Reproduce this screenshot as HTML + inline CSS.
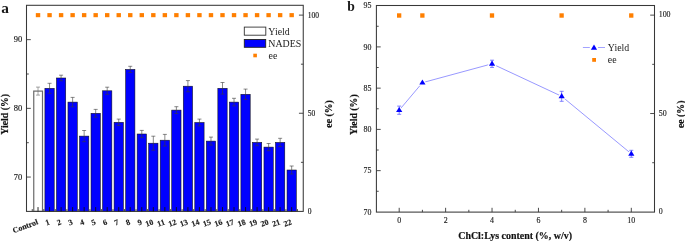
<!DOCTYPE html>
<html><head><meta charset="utf-8"><title>Figure</title>
<style>
html,body{margin:0;padding:0;background:#fff;}
body{width:685px;height:241px;overflow:hidden;}
svg{display:block;will-change:transform;}
text{font-family:"Liberation Serif",serif;fill:#1a1a1a;}
.t7{font-size:7.5px;stroke:#1a1a1a;stroke-width:0.15px;}
.t8{font-size:7.9px;stroke:#1a1a1a;stroke-width:0.14px;}
.xb{font-size:8px;font-weight:bold;stroke:#1a1a1a;stroke-width:0.15px;}
.ttl{font-size:9.8px;font-weight:bold;stroke:#111;stroke-width:0.18px;fill:#111;}
.lg{font-size:9.9px;fill:#222;}
.pl{font-size:14.5px;font-weight:bold;}
</style></head>
<body>
<svg width="685" height="241" viewBox="0 0 685 241">
<rect width="685" height="241" fill="#fff"/>
<rect x="33.75" y="91.10" width="8.75" height="120.30" fill="#fff" stroke="#6a6a6a" stroke-width="1.2"/>
<rect x="44.91" y="88.30" width="9.30" height="123.10" fill="#0000ff" stroke="#111" stroke-width="0.55"/>
<rect x="56.44" y="78.00" width="9.30" height="133.40" fill="#0000ff" stroke="#111" stroke-width="0.55"/>
<rect x="67.97" y="102.10" width="9.30" height="109.30" fill="#0000ff" stroke="#111" stroke-width="0.55"/>
<rect x="79.50" y="136.10" width="9.30" height="75.30" fill="#0000ff" stroke="#111" stroke-width="0.55"/>
<rect x="91.02" y="113.30" width="9.30" height="98.10" fill="#0000ff" stroke="#111" stroke-width="0.55"/>
<rect x="102.55" y="90.80" width="9.30" height="120.60" fill="#0000ff" stroke="#111" stroke-width="0.55"/>
<rect x="114.08" y="122.30" width="9.30" height="89.10" fill="#0000ff" stroke="#111" stroke-width="0.55"/>
<rect x="125.61" y="69.40" width="9.30" height="142.00" fill="#0000ff" stroke="#111" stroke-width="0.55"/>
<rect x="137.14" y="134.00" width="9.30" height="77.40" fill="#0000ff" stroke="#111" stroke-width="0.55"/>
<rect x="148.67" y="143.20" width="9.30" height="68.20" fill="#0000ff" stroke="#111" stroke-width="0.55"/>
<rect x="160.20" y="140.20" width="9.30" height="71.20" fill="#0000ff" stroke="#111" stroke-width="0.55"/>
<rect x="171.73" y="110.10" width="9.30" height="101.30" fill="#0000ff" stroke="#111" stroke-width="0.55"/>
<rect x="183.26" y="86.20" width="9.30" height="125.20" fill="#0000ff" stroke="#111" stroke-width="0.55"/>
<rect x="194.79" y="122.50" width="9.30" height="88.90" fill="#0000ff" stroke="#111" stroke-width="0.55"/>
<rect x="206.32" y="141.10" width="9.30" height="70.30" fill="#0000ff" stroke="#111" stroke-width="0.55"/>
<rect x="217.85" y="88.30" width="9.30" height="123.10" fill="#0000ff" stroke="#111" stroke-width="0.55"/>
<rect x="229.38" y="102.10" width="9.30" height="109.30" fill="#0000ff" stroke="#111" stroke-width="0.55"/>
<rect x="240.90" y="94.30" width="9.30" height="117.10" fill="#0000ff" stroke="#111" stroke-width="0.55"/>
<rect x="252.43" y="142.40" width="9.30" height="69.00" fill="#0000ff" stroke="#111" stroke-width="0.55"/>
<rect x="263.96" y="147.10" width="9.30" height="64.30" fill="#0000ff" stroke="#111" stroke-width="0.55"/>
<rect x="275.49" y="142.40" width="9.30" height="69.00" fill="#0000ff" stroke="#111" stroke-width="0.55"/>
<rect x="287.02" y="170.00" width="9.30" height="41.40" fill="#0000ff" stroke="#111" stroke-width="0.55"/>
<path d="M38.03 87.10V95.10M36.03 87.10H40.03M36.03 95.10H40.03" stroke="#6a6a6a" stroke-width="0.6" fill="none"/>
<path d="M49.56 83.30V93.30M47.56 83.30H51.56M47.56 93.30H51.56" stroke="#3a3a3a" stroke-width="0.6" fill="none"/>
<path d="M61.09 75.20V80.80M59.09 75.20H63.09M59.09 80.80H63.09" stroke="#3a3a3a" stroke-width="0.6" fill="none"/>
<path d="M72.62 97.40V106.80M70.62 97.40H74.62M70.62 106.80H74.62" stroke="#3a3a3a" stroke-width="0.6" fill="none"/>
<path d="M84.15 130.50V141.70M82.15 130.50H86.15M82.15 141.70H86.15" stroke="#3a3a3a" stroke-width="0.6" fill="none"/>
<path d="M95.67 109.40V117.20M93.67 109.40H97.67M93.67 117.20H97.67" stroke="#3a3a3a" stroke-width="0.6" fill="none"/>
<path d="M107.20 87.20V94.40M105.20 87.20H109.20M105.20 94.40H109.20" stroke="#3a3a3a" stroke-width="0.6" fill="none"/>
<path d="M118.73 119.10V125.50M116.73 119.10H120.73M116.73 125.50H120.73" stroke="#3a3a3a" stroke-width="0.6" fill="none"/>
<path d="M130.26 66.30V72.50M128.26 66.30H132.26M128.26 72.50H132.26" stroke="#3a3a3a" stroke-width="0.6" fill="none"/>
<path d="M141.79 130.40V137.60M139.79 130.40H143.79M139.79 137.60H143.79" stroke="#3a3a3a" stroke-width="0.6" fill="none"/>
<path d="M153.32 136.20V150.20M151.32 136.20H155.32M151.32 150.20H155.32" stroke="#3a3a3a" stroke-width="0.6" fill="none"/>
<path d="M164.85 134.40V146.00M162.85 134.40H166.85M162.85 146.00H166.85" stroke="#3a3a3a" stroke-width="0.6" fill="none"/>
<path d="M176.38 106.70V113.50M174.38 106.70H178.38M174.38 113.50H178.38" stroke="#3a3a3a" stroke-width="0.6" fill="none"/>
<path d="M187.91 80.60V91.80M185.91 80.60H189.91M185.91 91.80H189.91" stroke="#3a3a3a" stroke-width="0.6" fill="none"/>
<path d="M199.44 119.10V125.90M197.44 119.10H201.44M197.44 125.90H201.44" stroke="#3a3a3a" stroke-width="0.6" fill="none"/>
<path d="M210.97 137.10V145.10M208.97 137.10H212.97M208.97 145.10H212.97" stroke="#3a3a3a" stroke-width="0.6" fill="none"/>
<path d="M222.50 82.50V94.10M220.50 82.50H224.50M220.50 94.10H224.50" stroke="#3a3a3a" stroke-width="0.6" fill="none"/>
<path d="M234.03 98.30V105.90M232.03 98.30H236.03M232.03 105.90H236.03" stroke="#3a3a3a" stroke-width="0.6" fill="none"/>
<path d="M245.55 89.10V99.50M243.55 89.10H247.55M243.55 99.50H247.55" stroke="#3a3a3a" stroke-width="0.6" fill="none"/>
<path d="M257.08 139.10V145.70M255.08 139.10H259.08M255.08 145.70H259.08" stroke="#3a3a3a" stroke-width="0.6" fill="none"/>
<path d="M268.61 143.50V150.70M266.61 143.50H270.61M266.61 150.70H270.61" stroke="#3a3a3a" stroke-width="0.6" fill="none"/>
<path d="M280.14 138.30V146.50M278.14 138.30H282.14M278.14 146.50H282.14" stroke="#3a3a3a" stroke-width="0.6" fill="none"/>
<path d="M291.67 166.00V174.00M289.67 166.00H293.67M289.67 174.00H293.67" stroke="#3a3a3a" stroke-width="0.6" fill="none"/>
<rect x="35.83" y="13.1" width="4.4" height="4.1" fill="#ff7f00"/>
<rect x="47.36" y="13.1" width="4.4" height="4.1" fill="#ff7f00"/>
<rect x="58.89" y="13.1" width="4.4" height="4.1" fill="#ff7f00"/>
<rect x="70.42" y="13.1" width="4.4" height="4.1" fill="#ff7f00"/>
<rect x="81.95" y="13.1" width="4.4" height="4.1" fill="#ff7f00"/>
<rect x="93.47" y="13.1" width="4.4" height="4.1" fill="#ff7f00"/>
<rect x="105.00" y="13.1" width="4.4" height="4.1" fill="#ff7f00"/>
<rect x="116.53" y="13.1" width="4.4" height="4.1" fill="#ff7f00"/>
<rect x="128.06" y="13.1" width="4.4" height="4.1" fill="#ff7f00"/>
<rect x="139.59" y="13.1" width="4.4" height="4.1" fill="#ff7f00"/>
<rect x="151.12" y="13.1" width="4.4" height="4.1" fill="#ff7f00"/>
<rect x="162.65" y="13.1" width="4.4" height="4.1" fill="#ff7f00"/>
<rect x="174.18" y="13.1" width="4.4" height="4.1" fill="#ff7f00"/>
<rect x="185.71" y="13.1" width="4.4" height="4.1" fill="#ff7f00"/>
<rect x="197.24" y="13.1" width="4.4" height="4.1" fill="#ff7f00"/>
<rect x="208.77" y="13.1" width="4.4" height="4.1" fill="#ff7f00"/>
<rect x="220.30" y="13.1" width="4.4" height="4.1" fill="#ff7f00"/>
<rect x="231.83" y="13.1" width="4.4" height="4.1" fill="#ff7f00"/>
<rect x="243.35" y="13.1" width="4.4" height="4.1" fill="#ff7f00"/>
<rect x="254.88" y="13.1" width="4.4" height="4.1" fill="#ff7f00"/>
<rect x="266.41" y="13.1" width="4.4" height="4.1" fill="#ff7f00"/>
<rect x="277.94" y="13.1" width="4.4" height="4.1" fill="#ff7f00"/>
<rect x="289.47" y="13.1" width="4.4" height="4.1" fill="#ff7f00"/>
<rect x="26.5" y="5.3" width="276.75" height="206.10" fill="none" stroke="#383838" stroke-width="1.05"/>
<path d="M38.03 211.4V207.10" stroke="#111" stroke-width="0.9"/>
<path d="M49.56 211.4V207.10" stroke="#111" stroke-width="0.9"/>
<path d="M61.09 211.4V207.10" stroke="#111" stroke-width="0.9"/>
<path d="M72.62 211.4V207.10" stroke="#111" stroke-width="0.9"/>
<path d="M84.15 211.4V207.10" stroke="#111" stroke-width="0.9"/>
<path d="M95.67 211.4V207.10" stroke="#111" stroke-width="0.9"/>
<path d="M107.20 211.4V207.10" stroke="#111" stroke-width="0.9"/>
<path d="M118.73 211.4V207.10" stroke="#111" stroke-width="0.9"/>
<path d="M130.26 211.4V207.10" stroke="#111" stroke-width="0.9"/>
<path d="M141.79 211.4V207.10" stroke="#111" stroke-width="0.9"/>
<path d="M153.32 211.4V207.10" stroke="#111" stroke-width="0.9"/>
<path d="M164.85 211.4V207.10" stroke="#111" stroke-width="0.9"/>
<path d="M176.38 211.4V207.10" stroke="#111" stroke-width="0.9"/>
<path d="M187.91 211.4V207.10" stroke="#111" stroke-width="0.9"/>
<path d="M199.44 211.4V207.10" stroke="#111" stroke-width="0.9"/>
<path d="M210.97 211.4V207.10" stroke="#111" stroke-width="0.9"/>
<path d="M222.50 211.4V207.10" stroke="#111" stroke-width="0.9"/>
<path d="M234.03 211.4V207.10" stroke="#111" stroke-width="0.9"/>
<path d="M245.55 211.4V207.10" stroke="#111" stroke-width="0.9"/>
<path d="M257.08 211.4V207.10" stroke="#111" stroke-width="0.9"/>
<path d="M268.61 211.4V207.10" stroke="#111" stroke-width="0.9"/>
<path d="M280.14 211.4V207.10" stroke="#111" stroke-width="0.9"/>
<path d="M291.67 211.4V207.10" stroke="#111" stroke-width="0.9"/>
<path d="M32.26 211.4V209.10" stroke="#333" stroke-width="0.9"/>
<path d="M43.79 211.4V209.10" stroke="#333" stroke-width="0.9"/>
<path d="M55.32 211.4V209.10" stroke="#333" stroke-width="0.9"/>
<path d="M66.85 211.4V209.10" stroke="#333" stroke-width="0.9"/>
<path d="M78.38 211.4V209.10" stroke="#333" stroke-width="0.9"/>
<path d="M89.91 211.4V209.10" stroke="#333" stroke-width="0.9"/>
<path d="M101.44 211.4V209.10" stroke="#333" stroke-width="0.9"/>
<path d="M112.97 211.4V209.10" stroke="#333" stroke-width="0.9"/>
<path d="M124.50 211.4V209.10" stroke="#333" stroke-width="0.9"/>
<path d="M136.03 211.4V209.10" stroke="#333" stroke-width="0.9"/>
<path d="M147.56 211.4V209.10" stroke="#333" stroke-width="0.9"/>
<path d="M159.09 211.4V209.10" stroke="#333" stroke-width="0.9"/>
<path d="M170.61 211.4V209.10" stroke="#333" stroke-width="0.9"/>
<path d="M182.14 211.4V209.10" stroke="#333" stroke-width="0.9"/>
<path d="M193.67 211.4V209.10" stroke="#333" stroke-width="0.9"/>
<path d="M205.20 211.4V209.10" stroke="#333" stroke-width="0.9"/>
<path d="M216.73 211.4V209.10" stroke="#333" stroke-width="0.9"/>
<path d="M228.26 211.4V209.10" stroke="#333" stroke-width="0.9"/>
<path d="M239.79 211.4V209.10" stroke="#333" stroke-width="0.9"/>
<path d="M251.32 211.4V209.10" stroke="#333" stroke-width="0.9"/>
<path d="M262.85 211.4V209.10" stroke="#333" stroke-width="0.9"/>
<path d="M274.38 211.4V209.10" stroke="#333" stroke-width="0.9"/>
<path d="M285.91 211.4V209.10" stroke="#333" stroke-width="0.9"/>
<path d="M297.44 211.4V209.10" stroke="#333" stroke-width="0.9"/>
<path d="M26.5 177.05H30.80" stroke="#383838" stroke-width="0.9"/>
<path d="M26.5 108.35H30.80" stroke="#383838" stroke-width="0.9"/>
<path d="M26.5 39.65H30.80" stroke="#383838" stroke-width="0.9"/>
<path d="M26.5 142.70H28.80" stroke="#383838" stroke-width="0.9"/>
<path d="M26.5 74.00H28.80" stroke="#383838" stroke-width="0.9"/>
<path d="M303.25 113.26H298.95" stroke="#383838" stroke-width="0.9"/>
<path d="M303.25 15.11H298.95" stroke="#383838" stroke-width="0.9"/>
<path d="M303.25 162.33H300.95" stroke="#383838" stroke-width="0.9"/>
<path d="M303.25 64.19H300.95" stroke="#383838" stroke-width="0.9"/>
<text transform="translate(22.3 179.55) scale(1.13 1)" text-anchor="end" class="t7">70</text>
<text transform="translate(22.3 110.85) scale(1.13 1)" text-anchor="end" class="t7">80</text>
<text transform="translate(22.3 42.15) scale(1.13 1)" text-anchor="end" class="t7">90</text>
<text x="307.7" y="213.80" class="t7">0</text>
<text x="307.7" y="115.66" class="t7">50</text>
<text x="307.7" y="17.51" class="t7">100</text>
<text transform="translate(38.63 224.1) rotate(-20)" text-anchor="end" class="xb">Control</text>
<text transform="translate(50.16 224.1) rotate(-20)" text-anchor="end" class="xb">1</text>
<text transform="translate(61.69 224.1) rotate(-20)" text-anchor="end" class="xb">2</text>
<text transform="translate(73.22 224.1) rotate(-20)" text-anchor="end" class="xb">3</text>
<text transform="translate(84.75 224.1) rotate(-20)" text-anchor="end" class="xb">4</text>
<text transform="translate(96.27 224.1) rotate(-20)" text-anchor="end" class="xb">5</text>
<text transform="translate(107.80 224.1) rotate(-20)" text-anchor="end" class="xb">6</text>
<text transform="translate(119.33 224.1) rotate(-20)" text-anchor="end" class="xb">7</text>
<text transform="translate(130.86 224.1) rotate(-20)" text-anchor="end" class="xb">8</text>
<text transform="translate(142.39 224.1) rotate(-20)" text-anchor="end" class="xb">9</text>
<text transform="translate(153.92 224.1) rotate(-20)" text-anchor="end" class="xb">10</text>
<text transform="translate(165.45 224.1) rotate(-20)" text-anchor="end" class="xb">11</text>
<text transform="translate(176.98 224.1) rotate(-20)" text-anchor="end" class="xb">12</text>
<text transform="translate(188.51 224.1) rotate(-20)" text-anchor="end" class="xb">13</text>
<text transform="translate(200.04 224.1) rotate(-20)" text-anchor="end" class="xb">14</text>
<text transform="translate(211.57 224.1) rotate(-20)" text-anchor="end" class="xb">15</text>
<text transform="translate(223.10 224.1) rotate(-20)" text-anchor="end" class="xb">16</text>
<text transform="translate(234.62 224.1) rotate(-20)" text-anchor="end" class="xb">17</text>
<text transform="translate(246.15 224.1) rotate(-20)" text-anchor="end" class="xb">18</text>
<text transform="translate(257.68 224.1) rotate(-20)" text-anchor="end" class="xb">19</text>
<text transform="translate(269.21 224.1) rotate(-20)" text-anchor="end" class="xb">20</text>
<text transform="translate(280.74 224.1) rotate(-20)" text-anchor="end" class="xb">21</text>
<text transform="translate(292.27 224.1) rotate(-20)" text-anchor="end" class="xb">22</text>
<text transform="translate(7.6 114.3) rotate(-90)" text-anchor="middle" class="ttl">Yield (%)</text>
<text transform="translate(332.4 113.9) rotate(-90)" text-anchor="middle" class="ttl">ee (%)</text>
<rect x="244.3" y="27.1" width="21.5" height="8.1" fill="#fff" stroke="#333" stroke-width="0.9"/>
<rect x="244.3" y="39.5" width="21.4" height="7.8" fill="#0000ff" stroke="#222" stroke-width="0.9"/>
<rect x="253.3" y="53.7" width="3.6" height="3.6" fill="#ff7f00"/>
<text x="268.3" y="35.2" class="lg">Yield</text>
<text x="268.3" y="47.3" class="lg">NADES</text>
<text x="268.6" y="58.8" class="lg">ee</text>
<text x="1.2" y="12.6" class="pl" style="font-size:15.4px">a</text>
<path d="M399.20 110.20 L422.41 82.70 L492.04 63.80 L561.67 96.30 L631.30 153.80" stroke="#7d7dff" stroke-width="0.8" fill="none"/>
<path d="M399.20 106.90L402.30 112.10L396.10 112.10Z" fill="#fff" stroke="#fff" stroke-width="2.4" stroke-linejoin="round"/>
<path d="M422.41 79.40L425.51 84.60L419.31 84.60Z" fill="#fff" stroke="#fff" stroke-width="2.4" stroke-linejoin="round"/>
<path d="M492.04 60.50L495.14 65.70L488.94 65.70Z" fill="#fff" stroke="#fff" stroke-width="2.4" stroke-linejoin="round"/>
<path d="M561.67 93.00L564.77 98.20L558.57 98.20Z" fill="#fff" stroke="#fff" stroke-width="2.4" stroke-linejoin="round"/>
<path d="M631.30 150.50L634.40 155.70L628.20 155.70Z" fill="#fff" stroke="#fff" stroke-width="2.4" stroke-linejoin="round"/>
<path d="M399.20 106.10V114.30M397.20 106.10H401.20M397.20 114.30H401.20" stroke="#5a5aff" stroke-width="0.75" fill="none"/>
<path d="M492.04 60.20V67.40M490.04 60.20H494.04M490.04 67.40H494.04" stroke="#5a5aff" stroke-width="0.75" fill="none"/>
<path d="M561.67 91.30V101.30M559.67 91.30H563.67M559.67 101.30H563.67" stroke="#5a5aff" stroke-width="0.75" fill="none"/>
<path d="M631.30 150.30V157.30M629.30 150.30H633.30M629.30 157.30H633.30" stroke="#5a5aff" stroke-width="0.75" fill="none"/>
<path d="M399.20 106.90L402.30 112.10L396.10 112.10Z" fill="#0000ff"/>
<path d="M422.41 79.40L425.51 84.60L419.31 84.60Z" fill="#0000ff"/>
<path d="M492.04 60.50L495.14 65.70L488.94 65.70Z" fill="#0000ff"/>
<path d="M561.67 93.00L564.77 98.20L558.57 98.20Z" fill="#0000ff"/>
<path d="M631.30 150.50L634.40 155.70L628.20 155.70Z" fill="#0000ff"/>
<rect x="397.00" y="13.3" width="4.3" height="4.4" fill="#ff7f00"/>
<rect x="420.21" y="13.3" width="4.3" height="4.4" fill="#ff7f00"/>
<rect x="489.84" y="13.3" width="4.3" height="4.4" fill="#ff7f00"/>
<rect x="559.47" y="13.3" width="4.3" height="4.4" fill="#ff7f00"/>
<rect x="629.10" y="13.3" width="4.3" height="4.4" fill="#ff7f00"/>
<rect x="376.4" y="5.5" width="278.10" height="206.60" fill="none" stroke="#383838" stroke-width="1.05"/>
<path d="M399.20 212.1V207.80" stroke="#383838" stroke-width="0.9"/>
<text x="399.20" y="223.1" text-anchor="middle" class="t8">0</text>
<path d="M445.62 212.1V207.80" stroke="#383838" stroke-width="0.9"/>
<text x="445.62" y="223.1" text-anchor="middle" class="t8">2</text>
<path d="M492.04 212.1V207.80" stroke="#383838" stroke-width="0.9"/>
<text x="492.04" y="223.1" text-anchor="middle" class="t8">4</text>
<path d="M538.46 212.1V207.80" stroke="#383838" stroke-width="0.9"/>
<text x="538.46" y="223.1" text-anchor="middle" class="t8">6</text>
<path d="M584.88 212.1V207.80" stroke="#383838" stroke-width="0.9"/>
<text x="584.88" y="223.1" text-anchor="middle" class="t8">8</text>
<path d="M631.30 212.1V207.80" stroke="#383838" stroke-width="0.9"/>
<text x="631.30" y="223.1" text-anchor="middle" class="t8">10</text>
<path d="M422.41 212.1V209.80" stroke="#383838" stroke-width="0.9"/>
<path d="M468.83 212.1V209.80" stroke="#383838" stroke-width="0.9"/>
<path d="M515.25 212.1V209.80" stroke="#383838" stroke-width="0.9"/>
<path d="M561.67 212.1V209.80" stroke="#383838" stroke-width="0.9"/>
<path d="M608.09 212.1V209.80" stroke="#383838" stroke-width="0.9"/>
<text x="371.5" y="214.60" text-anchor="end" class="t8">70</text>
<path d="M376.4 170.65H380.70" stroke="#383838" stroke-width="0.9"/>
<text x="371.5" y="173.35" text-anchor="end" class="t8">75</text>
<path d="M376.4 129.40H380.70" stroke="#383838" stroke-width="0.9"/>
<text x="371.5" y="132.10" text-anchor="end" class="t8">80</text>
<path d="M376.4 88.15H380.70" stroke="#383838" stroke-width="0.9"/>
<text x="371.5" y="90.85" text-anchor="end" class="t8">85</text>
<path d="M376.4 46.90H380.70" stroke="#383838" stroke-width="0.9"/>
<text x="371.5" y="49.60" text-anchor="end" class="t8">90</text>
<text x="371.5" y="8.35" text-anchor="end" class="t8">95</text>
<path d="M376.4 191.28H378.70" stroke="#383838" stroke-width="0.9"/>
<path d="M376.4 150.03H378.70" stroke="#383838" stroke-width="0.9"/>
<path d="M376.4 108.78H378.70" stroke="#383838" stroke-width="0.9"/>
<path d="M376.4 67.53H378.70" stroke="#383838" stroke-width="0.9"/>
<path d="M376.4 26.28H378.70" stroke="#383838" stroke-width="0.9"/>
<text x="658.7" y="214.10" class="t8">0</text>
<path d="M654.5 113.52H650.20" stroke="#383838" stroke-width="0.9"/>
<text x="658.7" y="115.72" class="t8">50</text>
<path d="M654.5 15.14H650.20" stroke="#383838" stroke-width="0.9"/>
<text x="658.7" y="17.34" class="t8">100</text>
<path d="M654.5 162.71H652.20" stroke="#383838" stroke-width="0.9"/>
<path d="M654.5 64.33H652.20" stroke="#383838" stroke-width="0.9"/>
<text transform="translate(356.6 114.7) rotate(-90)" text-anchor="middle" class="ttl">Yield (%)</text>
<text transform="translate(683.8 114.3) rotate(-90)" text-anchor="middle" class="ttl">ee (%)</text>
<text x="515.1" y="239.1" text-anchor="middle" class="ttl" style="font-size:9.95px">ChCl:Lys content (%, w/v)</text>
<path d="M582.9 47.5H589.8M598 47.5H605" stroke="#8a8aff" stroke-width="0.8"/>
<path d="M594 44.5L597.1 49.8L590.9 49.8Z" fill="#0000ff"/>
<rect x="592.2" y="58" width="3.8" height="3.8" fill="#ff7f00"/>
<text x="607.8" y="51.1" class="lg">Yield</text>
<text x="607.8" y="62.9" class="lg">ee</text>
<text x="347.3" y="10.6" class="pl" style="font-size:13.6px">b</text>
</svg>
</body></html>
